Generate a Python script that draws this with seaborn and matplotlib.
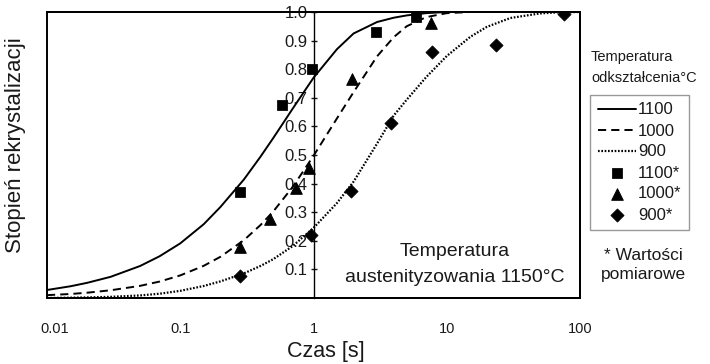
import numpy as np
import pandas as pd
import matplotlib
matplotlib.use("Agg")
import matplotlib.pyplot as plt
import matplotlib.transforms as mtrans
from matplotlib.patches import Rectangle
from matplotlib.ticker import NullLocator
import seaborn as sns

# ---- data ----
t_1100 = [0.01, 0.015, 0.02, 0.03, 0.05, 0.07, 0.1, 0.15, 0.2, 0.3, 0.4, 0.5, 0.7, 1.0, 1.5, 2.0, 3.0, 4.0, 5.0, 7.0, 10, 100]
x_1100 = [0.028, 0.041, 0.053, 0.074, 0.112, 0.146, 0.191, 0.258, 0.318, 0.414, 0.494, 0.56, 0.663, 0.77, 0.87, 0.925, 0.965, 0.98, 0.988, 0.996, 1.0, 1.0]

t_1000 = [0.01, 0.015, 0.02, 0.03, 0.05, 0.07, 0.1, 0.15, 0.2, 0.3, 0.4, 0.5, 0.7, 1.0, 1.5, 2.0, 3.0, 4.0, 5.0, 7.0, 10, 15, 100]
x_1000 = [0.01, 0.014, 0.0185, 0.027, 0.0425, 0.0575, 0.079, 0.1125, 0.144, 0.202, 0.255, 0.303, 0.389, 0.497, 0.628, 0.72, 0.845, 0.912, 0.95, 0.982, 0.996, 1.0, 1.0]

t_900 = [0.01, 0.02, 0.03, 0.05, 0.07, 0.1, 0.15, 0.2, 0.3, 0.4, 0.5, 0.7, 1.0, 1.5, 2.0, 3.0, 4.0, 5.0, 7.0, 10, 15, 20, 30, 50, 70, 100]
x_900 = [0.0, 0.002, 0.004, 0.009, 0.015, 0.025, 0.042, 0.058, 0.086, 0.112, 0.136, 0.182, 0.245, 0.332, 0.407, 0.54, 0.638, 0.693, 0.772, 0.846, 0.913, 0.948, 0.979, 0.995, 0.999, 1.0]

m_t_1100 = [0.28, 0.58, 0.97, 2.97, 5.9]
m_x_1100 = [0.37, 0.675, 0.80, 0.93, 0.983]
m_t_1000 = [0.28, 0.47, 0.74, 0.93, 1.93, 7.6]
m_x_1000 = [0.18, 0.276, 0.385, 0.455, 0.766, 0.96]
m_t_900 = [0.28, 0.95, 1.9, 3.84, 7.78, 23.5, 76]
m_x_900 = [0.077, 0.22, 0.374, 0.612, 0.86, 0.885, 0.993]

x_ticks = [0.01, 0.1, 1, 10, 100]
x_tick_labels = ["0.01", "0.1", "1", "10", "100"]
y_ticks = [0.1, 0.2, 0.3, 0.4, 0.5, 0.6, 0.7, 0.8, 0.9, 1.0]
y_tick_labels = ["0.1", "0.2", "0.3", "0.4", "0.5", "0.6", "0.7", "0.8", "0.9", "1.0"]

sns.set_theme(style="white")
plt.rcParams["font.family"] = ["Liberation Sans", "DejaVu Sans"]
TXT = "#1a1a1a"

fig = plt.figure(figsize=(7.1, 3.64), dpi=100)
ax = fig.add_axes([47 / 710, 66 / 364, 533 / 710, 286 / 364])

curves = pd.DataFrame({"t": t_1100 + t_1000 + t_900,
                       "x": x_1100 + x_1000 + x_900,
                       "s": ["1100"] * len(t_1100) + ["1000"] * len(t_1000) + ["900"] * len(t_900)})
styles = {"1100": "-", "1000": (0, (4.2, 2.6)), "900": (0, (0.75, 0.75))}
widths = {"1100": 1.4, "1000": 1.4, "900": 1.6}
for s in ["1100", "1000", "900"]:
    d = curves[curves["s"] == s]
    sns.lineplot(data=d, x="t", y="x", ax=ax, color="black", linestyle=styles[s],
                 linewidth=widths[s], label=s, sort=False, estimator=None)

sns.scatterplot(x=m_t_1100, y=m_x_1100, ax=ax, marker="s", s=48, color="black",
                edgecolor="black", label="1100*", zorder=4)
sns.scatterplot(x=m_t_1000, y=m_x_1000, ax=ax, marker="^", s=70, color="black",
                edgecolor="black", label="1000*", zorder=4)
sns.scatterplot(x=m_t_900, y=m_x_900, ax=ax, marker="D", s=45, color="black",
                edgecolor="black", label="900*", zorder=4)

ax.set_xscale("log")
ax.set_xlim(0.01, 100)
ax.set_ylim(0, 1.0)
ax.set_xticks(x_ticks)
ax.set_xticklabels(x_tick_labels)
ax.xaxis.set_minor_locator(NullLocator())
ax.set_yticks(y_ticks)
ax.set_yticklabels(y_tick_labels)
ax.set_xlabel("")
ax.set_ylabel("")

ax.spines["left"].set_position(("data", 1))
ax.spines["left"].set_linewidth(1.0)
ax.spines["left"].set_color("black")
for sp in ["top", "right", "bottom"]:
    ax.spines[sp].set_linewidth(1.4)
    ax.spines[sp].set_color("black")
ax.add_patch(Rectangle((0, 0), 1, 1, transform=ax.transAxes, fill=False,
                       lw=1.4, ec="black", clip_on=False, zorder=6))

ax.tick_params(axis="y", direction="inout", length=5, width=1, pad=2,
               labelsize=12, colors=TXT, left=True)
ax.tick_params(axis="x", length=0, pad=17, labelsize=10.5, colors=TXT)
# first x label sits a little right of its tick in the reference
lbl0 = ax.get_xticklabels()[0]
lbl0.set_transform(lbl0.get_transform() + mtrans.ScaledTranslation(8 / 100, 0, fig.dpi_scale_trans))

leg = ax.legend(loc="upper left", bbox_to_anchor=(590 / 710, 1 - 95 / 364),
                bbox_transform=fig.transFigure, frameon=True, fancybox=False,
                fontsize=12, handlelength=2.3, labelspacing=0.36,
                borderpad=0.45, handletextpad=0.12, borderaxespad=0)
leg.get_frame().set_edgecolor("#808080")
leg.get_frame().set_linewidth(1.0)
for t in leg.get_texts():
    t.set_color(TXT)

fig.text(591 / 710, 1 - 57 / 364, "Temperatura", ha="left", va="center", fontsize=10.5, color=TXT)
fig.text(591 / 710, 1 - 78 / 364, "odkształcenia°C", ha="left", va="center", fontsize=10.5, color=TXT)
fig.text(643 / 710, 1 - 255 / 364, "* Wartości", ha="center", va="center", fontsize=12.5, color=TXT)
fig.text(643 / 710, 1 - 274 / 364, "pomiarowe", ha="center", va="center", fontsize=12.5, color=TXT)

fig.text(455 / 710, 1 - 252 / 364, "Temperatura", ha="center", va="center", fontsize=14, color=TXT)
fig.text(455 / 710, 1 - 277 / 364, "austenityzowania 1150°C", ha="center", va="center", fontsize=14, color=TXT)

fig.text(326 / 710, 1 - 352 / 364, "Czas [s]", ha="center", va="center", fontsize=15.5, color=TXT)
fig.text(16 / 710, 1 - 145 / 364, "Stopień rekrystalizacji", ha="center", va="center",
         rotation=90, fontsize=16, color=TXT)

fig.savefig("out.png", dpi=100)
